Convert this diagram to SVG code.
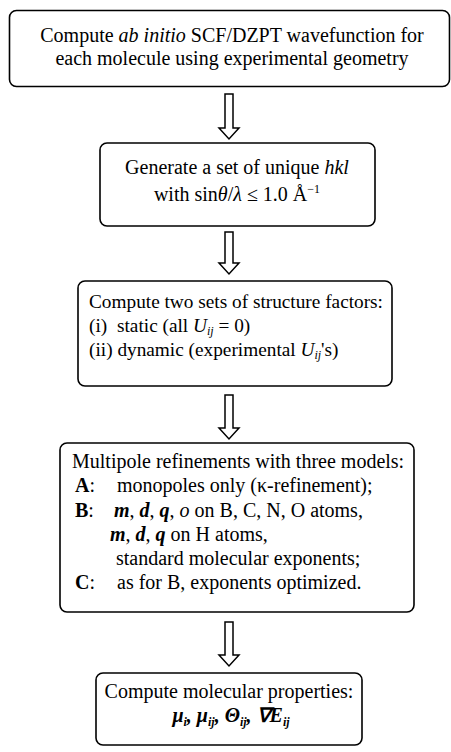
<svg xmlns="http://www.w3.org/2000/svg" width="451" height="752" viewBox="0 0 451 752">
<style>
.box{fill:#fff;stroke:#000;stroke-width:1.6}
.t{font-family:'Liberation Serif','Times New Roman',serif;font-size:20px;fill:#000}
.t3{font-size:19.3px}
.c{text-anchor:middle}
.i{font-style:italic}
.b{font-weight:bold}
.arr{fill:none;stroke:#000;stroke-width:1.5;stroke-linejoin:miter}
.s{font-size:12px}
</style>
<rect width="451" height="752" fill="#fff"/>
<g id="connectors">
<path class="arr" d="M225,94 V128 H219 L229,139 L239,128 H233 V94 Z"/>
<path class="arr" d="M225,232 V263 H219 L229,274 L239,263 H233 V232 Z"/>
<path class="arr" d="M225,395 V428 H219 L229,439 L239,428 H233 V395 Z"/>
<path class="arr" d="M225,622 V655 H219 L229,666 L239,655 H233 V622 Z"/>
</g>
<g id="n1">
<rect class="box" x="9.5" y="10.5" width="440" height="76" rx="7"/>
<text class="t c" x="232" y="42">Compute <tspan class="i">ab initio</tspan> SCF/DZPT wavefunction for</text>
<text class="t c" x="232" y="65">each molecule using experimental geometry</text>
</g>
<g id="n2">
<rect class="box" x="100" y="143" width="275" height="83" rx="7"/>
<text class="t c" x="237" y="174">Generate a set of unique <tspan class="i">hkl</tspan></text>
<text class="t c" x="237" y="201">with sin<tspan class="i">θ</tspan>/<tspan class="i">λ</tspan> ≤ 1.0 Å<tspan class="s" dy="-8">−1</tspan></text>
</g>
<g id="n3">
<rect class="box" x="78" y="281" width="314" height="105" rx="7"/>
<text class="t t3" x="89" y="308">Compute two sets of structure factors:</text>
<text class="t t3" x="89" y="332">(i)</text>
<text class="t t3" x="117" y="332">static (all <tspan class="i">U</tspan><tspan class="i s" dy="3">ij</tspan><tspan dy="-3"> = 0)</tspan></text>
<text class="t t3" x="89" y="356">(ii) dynamic (experimental <tspan class="i">U</tspan><tspan class="i s" dy="3">ij</tspan><tspan dy="-3">'s)</tspan></text>
</g>
<g id="n4">
<rect class="box" x="60" y="443" width="354" height="169" rx="7"/>
<text class="t" x="72" y="468">Multipole refinements with three models:</text>
<text class="t" x="75" y="492"><tspan class="b">A</tspan>:</text>
<text class="t" x="117" y="492">monopoles only (κ-refinement);</text>
<text class="t" x="75" y="517"><tspan class="b">B</tspan>:</text>
<text class="t" x="114" y="517"><tspan class="i b">m</tspan>, <tspan class="i b">d</tspan>, <tspan class="i b">q</tspan>, <tspan class="i">o</tspan> on B, C, N, O atoms,</text>
<text class="t" x="110" y="541"><tspan class="i b">m</tspan>, <tspan class="i b">d</tspan>, <tspan class="i b">q</tspan> on H atoms,</text>
<text class="t" x="116" y="565">standard molecular exponents;</text>
<text class="t" x="75" y="589"><tspan class="b">C</tspan>:</text>
<text class="t" x="117" y="589">as for B, exponents optimized.</text>
</g>
<g id="n5">
<rect class="box" x="96" y="673" width="266" height="72" rx="7"/>
<text class="t c" x="229" y="698">Compute molecular properties:</text>
<text class="t c i b" x="231" y="722">μ<tspan class="s" dy="4">i</tspan><tspan dy="-4">, μ</tspan><tspan class="s" dy="4">ij</tspan><tspan dy="-4">, Θ</tspan><tspan class="s" dy="4">ij</tspan><tspan dy="-4">, ∇E</tspan><tspan class="s" dy="4">ij</tspan></text>
</g>
</svg>
